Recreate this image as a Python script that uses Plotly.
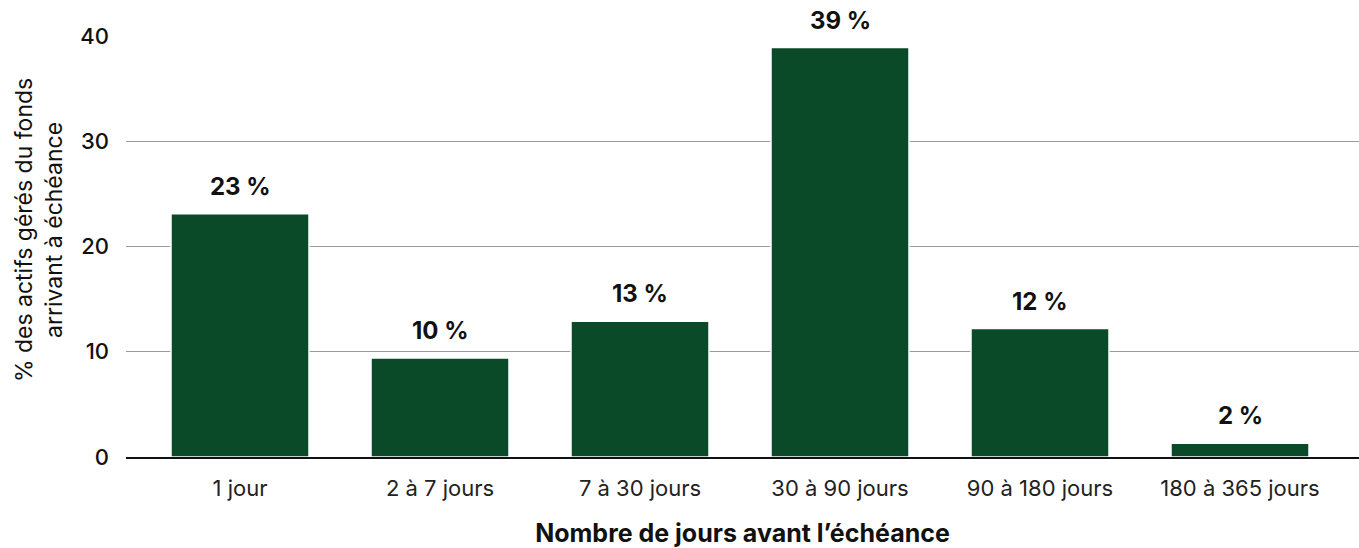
import plotly.graph_objects as go

# Données
categories = ['1 jour', '2 à 7 jours', '7 à 30 jours', '30 à 90 jours', '90 à 180 jours', '180 à 365 jours']
values = [23.1, 9.4, 12.9, 38.9, 12.2, 1.3]
labels = ['23 %', '10 %', '13 %', '39 %', '12 %', '2 %']

bar_color = '#0b4a28'
font_family = 'Inter, Roboto, sans-serif'

fig = go.Figure()

fig.add_trace(go.Bar(
    x=categories,
    y=values,
    width=0.69,
    marker=dict(color=bar_color, line=dict(color='white', width=1.5)),
    hoverinfo='skip',
))

# Étiquettes au-dessus des barres
for cat, val, lab in zip(categories, values, labels):
    fig.add_annotation(
        x=cat, y=val, text=lab, showarrow=False,
        yanchor='bottom', yshift=11,
        font=dict(family=font_family, size=24, color='#111111', weight='bold'),
    )

# Titre de l'axe vertical (deux lignes)
fig.add_annotation(
    xref='paper', yref='paper', x=-0.071, y=0.54,
    text='% des actifs gérés du fonds<br>arrivant à échéance',
    textangle=-90, showarrow=False, xanchor='center', yanchor='middle',
    font=dict(family=font_family, size=23, color='#111111'),
)

fig.update_layout(
    width=1359, height=548,
    margin=dict(l=126, r=0, t=36, b=91, autoexpand=False),
    plot_bgcolor='white', paper_bgcolor='white',
    font=dict(family=font_family, color='#111111'),
    showlegend=False,
    xaxis=dict(
        range=[-0.57, 5.595], automargin=False,
        showline=True, linecolor='#111111', linewidth=2,
        showgrid=False, ticks='',
        tickfont=dict(size=22, color='#222222'),
        ticklabelstandoff=11,
        title=dict(text='Nombre de jours avant l’échéance',
                   font=dict(size=25, weight='bold', color='#111111'), standoff=24),
    ),
    yaxis=dict(
        range=[0, 40], automargin=False,
        tickvals=[0, 10, 20, 30, 40],
        showgrid=True, gridcolor='#9a9a9a', gridwidth=1,
        zeroline=False, showline=False, ticks='',
        tickfont=dict(size=22, color='#111111', weight=500),
        ticklabelstandoff=16,
    ),
)

fig.update_traces(cliponaxis=False)

# pas de marge autour du corps de la page, pas de barre d'outils
fig.write_html('out.html', config={'displayModeBar': False},
               post_script="document.body.style.margin='0';")
